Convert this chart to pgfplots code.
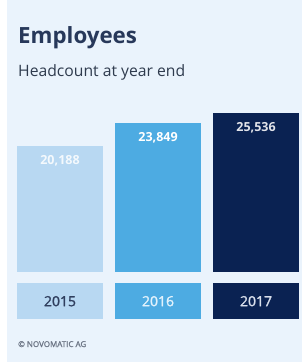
\documentclass[border=0pt]{standalone}
\usepackage{pgfplots}
\pgfplotsset{compat=1.18}
\usepackage{fontspec}
\setmainfont{Open Sans}
\newfontfamily\semib[FakeBold=1.5]{Open Sans}
\definecolor{bg}{HTML}{EAF3FC}
\definecolor{c15}{HTML}{B8D8F2}
\definecolor{c16}{HTML}{4DABE2}
\definecolor{c17}{HTML}{0A2252}
\definecolor{t15}{HTML}{2F3E5E}
\definecolor{t16}{HTML}{E2F2FC}
\definecolor{t17}{HTML}{D8DFEC}
\definecolor{titlec}{HTML}{27385A}
\definecolor{subc}{HTML}{2F3B4E}
\definecolor{copyc}{HTML}{6E7787}
\newcommand{\yearbox}[3]{{\setlength{\fboxsep}{0pt}\colorbox{#1}{\parbox[c][36pt][c]{86pt}{\centering\semib\fontsize{14}{16}\selectfont\color{#2}#3}}}}
\begin{document}
\begin{tikzpicture}[x=1pt,y=1pt]
\path[use as bounding box] (0,0) rectangle (302,362);
\fill[white] (0,0) rectangle (302,362);
\fill[bg] (7,0) rectangle (302,362);
\node[anchor=base west, inner sep=0pt, font=\fontsize{22.3}{26}\selectfont\bfseries, text=titlec] at (18,318) {Employees};
\node[anchor=base west, inner sep=0pt, font=\fontsize{15.7}{18}\selectfont, text=subc] at (18,285) {Headcount at year end};
\node[anchor=base west, inner sep=0pt, font=\semib\fontsize{8}{10}\selectfont, text=copyc] at (18,15) {© NOVOMATIC AG};
\begin{axis}[
  at={(11pt,90pt)}, anchor=south west,
  scale only axis, width=291pt, height=172pt,
  xmin=-0.5, xmax=2.469, ymin=0, ymax=27600,
  ybar, bar width=86pt, bar shift=0pt,
  axis line style={draw=none}, major tick length=0pt,
  ytick=\empty, xtick={0,1,2},
  xticklabels={{\yearbox{c15}{t15}{2015}},{\yearbox{c16}{t16}{2016}},{\yearbox{c17}{t17}{2017}}},
  xticklabel style={anchor=north, inner sep=0pt, yshift=-11pt},
  /pgf/number format/1000 sep={,},
  /pgf/number format/assume math mode=true,
  nodes near coords,
  every node near coord/.append style={anchor=north, yshift=-6pt, font=\fontsize{12.5}{14}\selectfont\bfseries, text=white},
]
\addplot[fill=c15, draw=none, every node near coord/.append style={text=white!85!c15}] coordinates {(0,20188)};
\addplot[fill=c16, draw=none] coordinates {(1,23849)};
\addplot[fill=c17, draw=none, every node near coord/.append style={text=white!88!c17}] coordinates {(2,25536)};
\end{axis}
\end{tikzpicture}
\end{document}
